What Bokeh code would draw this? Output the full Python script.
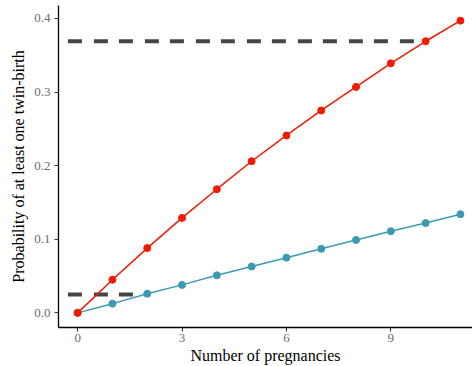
from bokeh.plotting import figure
from bokeh.models import Range1d, FixedTicker, NumeralTickFormatter, ColumnDataSource
from bokeh.embed import file_html
from bokeh.resources import INLINE

# ---- data ----
pregnancies = list(range(12))
prob_high = [0.000, 0.045, 0.088, 0.129, 0.168, 0.206, 0.241, 0.275, 0.307, 0.339, 0.369, 0.397]
prob_low = [0.000, 0.0125, 0.026, 0.038, 0.051, 0.063, 0.075, 0.087, 0.099, 0.111, 0.122, 0.134]
ref_high_x = [-0.28, 9.70]
ref_high_y = [0.369, 0.369]
ref_low_x = [-0.28, 1.59]
ref_low_y = [0.025, 0.025]
x_ticks = [0, 3, 6, 9]
y_ticks = [0.0, 0.1, 0.2, 0.3, 0.4]
x_title = "Number of pregnancies"
y_title = "Probability of at least one twin-birth"

RED = "#F21A00"
BLUE = "#3B9AB2"
DASH = "#454545"
FONT = "Liberation Serif"

p = figure(width=472, height=366, output_backend="svg", toolbar_location=None,
           x_range=Range1d(-0.55, 11.347), y_range=Range1d(-0.0199, 0.4176),
           min_border_left=58, min_border_right=0, min_border_top=5, min_border_bottom=39)
p.outline_line_color = None
p.xgrid.visible = False
p.ygrid.visible = False

p.line(ref_high_x, ref_high_y, line_color=DASH, line_width=4, line_dash="14 12 14 11")
p.line(ref_low_x, ref_low_y, line_color=DASH, line_width=4, line_dash="14 12 14 11")

src = ColumnDataSource(dict(x=pregnancies, hi=prob_high, lo=prob_low))
p.line("x", "lo", source=src, line_color=BLUE, line_width=1.5)
p.scatter("x", "lo", source=src, size=7, fill_color=BLUE, line_color=BLUE)
p.line("x", "hi", source=src, line_color=RED, line_width=1.5)
p.scatter("x", "hi", source=src, size=7, fill_color=RED, line_color=RED)

for ax in (p.xaxis[0], p.yaxis[0]):
    ax.axis_line_color = "black"
    ax.axis_line_width = 1.3
    ax.major_tick_line_color = "#333333"
    ax.major_tick_line_width = 1.1
    ax.major_tick_out = 4
    ax.major_tick_in = 0
    ax.minor_tick_line_color = None
    ax.major_label_text_font = FONT
    ax.major_label_text_font_size = "13px"
    ax.major_label_text_color = "#6b6b6b"
    ax.axis_label_text_font = FONT
    ax.axis_label_text_font_size = "16px"
    ax.axis_label_text_font_style = "normal"
    ax.axis_label_text_color = "black"

p.xaxis.ticker = FixedTicker(ticks=x_ticks)
p.yaxis.ticker = FixedTicker(ticks=y_ticks)
p.yaxis.formatter = NumeralTickFormatter(format="0.0")
p.xaxis.axis_label = x_title
p.yaxis.axis_label = y_title
p.xaxis.major_label_standoff = 2
p.xaxis.axis_label_standoff = 2
p.yaxis.major_label_standoff = 4
p.yaxis.axis_label_standoff = 4

open("out.html", "w").write(file_html(p, INLINE))
